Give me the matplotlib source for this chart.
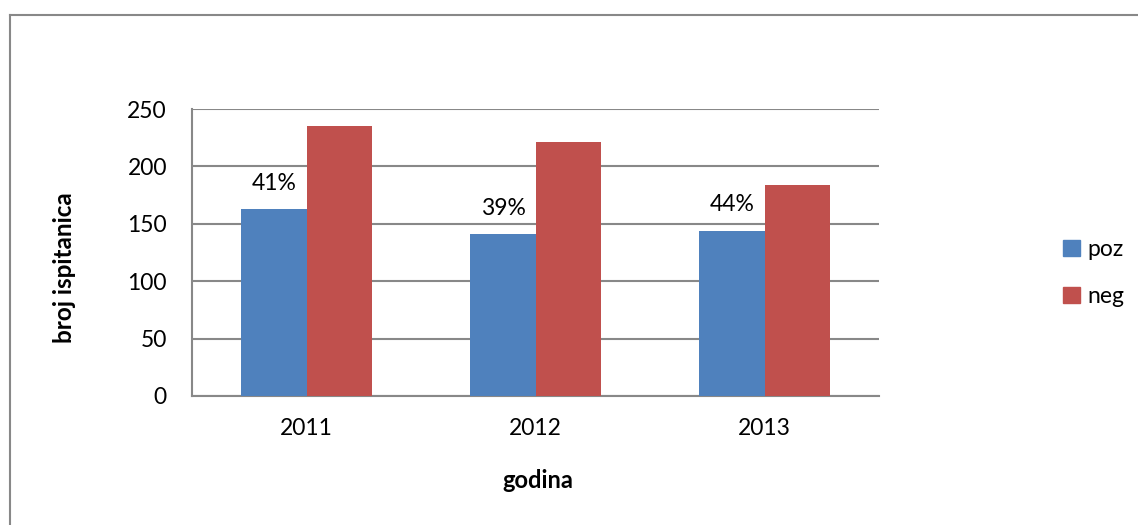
import matplotlib
matplotlib.use("Agg")
import matplotlib.pyplot as plt
import numpy as np
from matplotlib.lines import Line2D

years = ["2011", "2012", "2013"]
poz = [163, 141, 144]
neg = [235, 221, 184]
pct_labels = ["41%", "39%", "44%"]
series_names = ["poz", "neg"]
yticks = [0, 50, 100, 150, 200, 250]

plt.rcParams['font.family'] = ['Lato', 'DejaVu Sans']
W, H = 1138, 525
fig = plt.figure(figsize=(W / 100, H / 100), dpi=100)
fig.patch.set_facecolor('white')

ax = fig.add_axes([192 / W, 1 - 396 / H, (879 - 192) / W, (396 - 109) / H])

blue = '#4F81BD'
red = '#C0504D'
grid_c = '#888888'
bw = 0.284
x = np.arange(len(years))
b1 = ax.bar(x - bw / 2, poz, bw, color=blue, label=series_names[0], zorder=3)
b2 = ax.bar(x + bw / 2, neg, bw, color=red, label=series_names[1], zorder=3)

for rect, lab in zip(b1, pct_labels):
    ax.annotate(lab, (rect.get_x() + rect.get_width() / 2, rect.get_height()),
                xytext=(0, 11), textcoords='offset points', ha='center', va='bottom',
                fontsize=16.5, color='black', zorder=4)

ax.set_xlim(-0.5, len(years) - 0.5)
ax.set_ylim(0, 250)
ax.set_yticks(yticks)
ax.set_xticks(x)
ax.set_xticklabels(years)
ax.tick_params(axis='both', length=0, labelsize=16.5, colors='black')
ax.tick_params(axis='y', pad=18)
ax.tick_params(axis='x', pad=16)
ax.yaxis.grid(True, color=grid_c, linewidth=1.5, zorder=0)
ax.set_axisbelow(True)
for s in ['top', 'right']:
    ax.spines[s].set_visible(False)
for s in ['left', 'bottom']:
    ax.spines[s].set_color(grid_c)
    ax.spines[s].set_linewidth(1.5)

fig.text(538 / W, 1 - 480 / H, 'godina', ha='center', va='center',
         fontsize=17, fontweight='bold')
fig.text(65 / W, 1 - 268 / H, 'broj ispitanica', ha='center', va='center',
         rotation=90, fontsize=17.5, fontweight='bold')

handles = [plt.Rectangle((0, 0), 1, 1, color=blue), plt.Rectangle((0, 0), 1, 1, color=red)]
leg = fig.legend(handles, series_names, loc='center left',
                 bbox_to_anchor=(1052 / W, 1 - 273 / H), frameon=False,
                 fontsize=16.5, handlelength=0.7, handleheight=0.7,
                 handletextpad=0.35, labelspacing=1.1, borderpad=0)

# outer chart border (cropped at right and bottom)
fig.add_artist(Line2D([9.5 / W, 9.5 / W], [0, 1 - 15 / H], color=grid_c, linewidth=1.5,
                      transform=fig.transFigure))
fig.add_artist(Line2D([9.5 / W, 1], [1 - 15 / H, 1 - 15 / H], color=grid_c, linewidth=1.5,
                      transform=fig.transFigure))

fig.savefig('out.png', dpi=100, facecolor='white')
